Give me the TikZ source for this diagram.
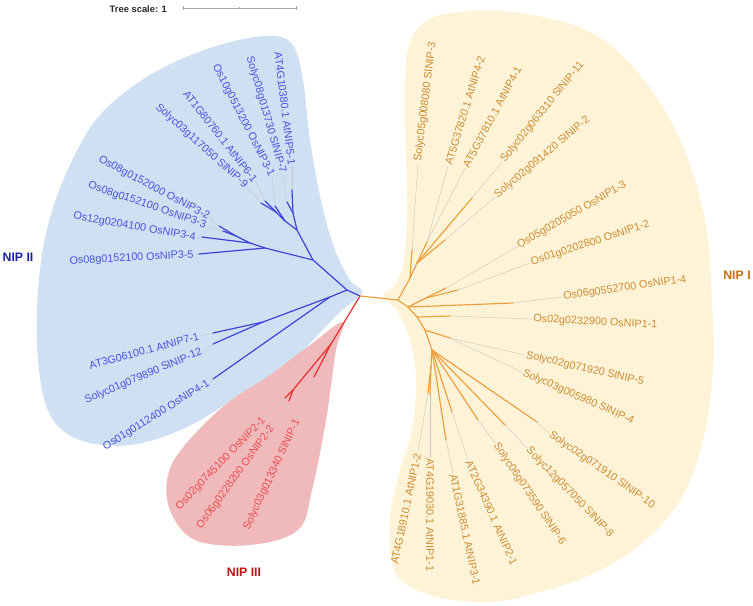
\documentclass[tikz,border=0pt]{standalone}
\usepackage{fontspec}
\setmainfont{Liberation Sans}
\usepackage{xcolor}
\usetikzlibrary{arrows.meta}

\definecolor{bgblue}{RGB}{207,224,242}
\definecolor{bgred}{RGB}{240,185,187}
\definecolor{bgorange}{RGB}{254,243,214}
\definecolor{lnblue}{RGB}{55,65,220}
\definecolor{lnred}{RGB}{232,45,45}
\definecolor{lnorange}{RGB}{236,160,62}
\definecolor{txblue}{RGB}{72,82,226}
\definecolor{txred}{RGB}{236,78,78}
\definecolor{txorange}{RGB}{206,140,52}
\definecolor{cladeblue}{RGB}{30,30,170}
\definecolor{cladered}{RGB}{190,20,20}
\definecolor{cladeorange}{RGB}{200,110,20}

\tikzset{
  leaf/.style={inner sep=1pt, font=\fontsize{9.2}{10}\selectfont},
  leafL/.style={leaf, anchor=east},
  leafR/.style={leaf, anchor=west},
  leader/.style={draw=gray!45, line width=0.35pt},
  bbr/.style={draw=lnblue, line width=1pt, line join=round, line cap=round},
  rbr/.style={draw=lnred, line width=1pt, line join=round, line cap=round},
  obr/.style={draw=lnorange, line width=1pt, line join=round, line cap=round},
  clade/.style={font=\fontsize{10.5}{12}\selectfont\bfseries},
}

\begin{document}
\begin{tikzpicture}[x=0.03cm, y=-0.03cm, >=stealth]
  \useasboundingbox (0,0) rectangle (753,605);

  % ===== clade shading =====
  \fill[bgblue] plot[smooth cycle, tension=0.6] coordinates {
    (362,293) (340,312) (290,362) (240,395) (185,428) (130,445) (80,440)
    (50,415) (38,360) (38,290) (48,225) (70,165) (100,115) (150,75)
    (210,48) (265,36) (292,44) (303,80) (310,140) (322,205) (335,250) (350,280)};
  \fill[bgred] plot[smooth cycle, tension=0.6] coordinates {
    (343,322) (336,350) (326,420) (312,490) (298,530) (250,545) (195,540)
    (170,510) (168,475) (185,445) (225,405) (270,375) (310,345)};
  \fill[bgorange] plot[smooth cycle, tension=0.6] coordinates {
    (383,296) (398,312) (410,340) (416,380) (412,430) (400,470) (390,520)
    (395,572) (430,595) (490,602) (540,592) (590,575) (640,545) (680,500)
    (703,440) (713,370) (712,300) (705,220) (680,140) (640,75) (590,32)
    (520,13) (460,12) (425,22) (408,50) (405,110) (407,200) (404,260) (395,285)};

  % ===== scale bar =====
  \node[font=\fontsize{8}{9}\selectfont\bfseries, text=gray!30!black, anchor=east] (scl) at (171,9) {Tree scale: 1};
  \coordinate (sb0) at (183,8);
  \coordinate (sb1) at (296,8);
  \coordinate (sbm) at (239.5,8);
  \draw[gray!70, line width=0.6pt] (sb0) -- (sb1);
  \draw[gray!70, line width=0.6pt] ([yshift=-2pt]sb0) -- ([yshift=2pt]sb0);
  \draw[gray!70, line width=0.6pt] ([yshift=-2pt]sb1) -- ([yshift=2pt]sb1);
  \draw[gray!70, line width=0.6pt] ([yshift=-1pt]sbm) -- ([yshift=1pt]sbm);

  % ===== centre =====
  \coordinate (r0) at (360,296);

  % ===== NIP II (blue) =====
  \coordinate (b0) at (347,290);
  \coordinate (b1) at (313,260);
  \coordinate (b2) at (297,230);
  \coordinate (b3) at (293,213);
  \coordinate (b4) at (285,221);
  \coordinate (b5) at (276,212);
  \coordinate (b6) at (265,248);
  \coordinate (b7) at (250,243);
  \coordinate (b8) at (236,236);
  \coordinate (b10) at (330,297);
  \coordinate (b9) at (263,322);
  \coordinate (tA5) at (292,190);
  \coordinate (tS7) at (287,202);
  \coordinate (tO31) at (275,206);
  \coordinate (tA6) at (265,201);
  \coordinate (tS9) at (261,203);
  \coordinate (tO32) at (219,226);
  \coordinate (tO33) at (223,231);
  \coordinate (tO34) at (202,237);
  \coordinate (tO35) at (199,254);
  \coordinate (tA7) at (213,333);
  \coordinate (tS12) at (213,344);
  \coordinate (tO41) at (213,379);

  \node[leafL, rotate=-83, text=txblue] (lA5) at (292,166) {AT4G10380.1 AtNIP5-1};
  \node[leafL, rotate=-74, text=txblue] (lS7) at (283,174) {Solyc08g013730 SlNIP-7};
  \node[leafL, rotate=-63, text=txblue] (lO31) at (272,177) {Os10g0513200 OsNIP3-1};
  \node[leafL, rotate=-52, text=txblue] (lA6) at (256,182) {AT1G80760.1 AtNIP6-1};
  \node[leafL, rotate=-42, text=txblue] (lS9) at (247,187) {Solyc03g117050 SlNIP-9};
  \node[leafL, rotate=-28, text=txblue] (lO32) at (210,218) {Os08g0152000 OsNIP3-2};
  \node[leafL, rotate=-19, text=txblue] (lO33) at (207,226) {Os08g0152100 OsNIP3-3};
  \node[leafL, rotate=-10, text=txblue] (lO34) at (197,238) {Os12g0204100 OsNIP3-4};
  \node[leafL, rotate=3, text=txblue] (lO35) at (195,255) {Os08g0152100 OsNIP3-5};
  \node[leafL, rotate=15, text=txblue] (lA7) at (200,336) {AT3G06100.1 AtNIP7-1};
  \node[leafL, rotate=23, text=txblue] (lS12) at (203,351) {Solyc01g079890 SlNIP-12};
  \node[leafL, rotate=32, text=txblue] (lO41) at (210,382) {Os01g0112400 OsNIP4-1};

  \draw[leader] (tA5) -- (lA5.east);
  \draw[leader] (tS7) -- (lS7.east);
  \draw[leader] (tO31) -- (lO31.east);
  \draw[leader] (tA6) -- (lA6.east);
  \draw[leader] (tS9) -- (lS9.east);
  \draw[leader] (tO32) -- (lO32.east);
  \draw[leader] (tO33) -- (lO33.east);
  \draw[leader] (tO34) -- (lO34.east);
  \draw[leader] (tO35) -- (lO35.east);
  \draw[leader] (tA7) -- (lA7.east);
  \draw[leader] (tS12) -- (lS12.east);
  \draw[leader] (tO41) -- (lO41.east);

  \draw[bbr] (r0) -- (b0) -- (b1) -- (b2) -- (b3) -- (tA5);
  \draw[bbr] (b3) -- (tS7);
  \draw[bbr] (b2) -- (b4) -- (tO31);
  \draw[bbr] (b4) -- (b5) -- (tA6);
  \draw[bbr] (b5) -- (tS9);
  \draw[bbr] (b1) -- (b6) -- (tO35);
  \draw[bbr] (b6) -- (b7) -- (tO34);
  \draw[bbr] (b7) -- (b8) -- (tO32);
  \draw[bbr] (b8) -- (tO33);
  \draw[bbr] (b0) -- (b10) -- (b9) -- (tA7);
  \draw[bbr] (b9) -- (tS12);
  \draw[bbr] (b10) -- (tO41);

  % ===== NIP III (red) =====
  \coordinate (d0) at (331,344);
  \coordinate (d1) at (293,390);
  \coordinate (tO21) at (285,398);
  \coordinate (tO22) at (289,401);
  \coordinate (tSl1) at (314,377);

  \node[leafL, rotate=46, text=txred] (lO21) at (265,418) {Os02g0745100 OsNIP2-1};
  \node[leafL, rotate=54, text=txred] (lO22) at (273,426) {Os06g0228200 OsNIP2-2};
  \node[leafL, rotate=65, text=txred] (lSl1) at (298,419) {Solyc03g013340 SlNIP-1};

  \draw[leader] (tO21) -- (lO21.east);
  \draw[leader] (tO22) -- (lO22.east);
  \draw[leader] (tSl1) -- (lSl1.east);

  \draw[rbr] (r0) -- (d0) -- (d1) -- (tO21);
  \draw[rbr] (d1) -- (tO22);
  \draw[rbr] (d0) -- (tSl1);

  % ===== NIP I (orange) =====
  \coordinate (o0) at (398,300);
  \coordinate (o1) at (410,278);
  \coordinate (o2) at (417,263);
  \coordinate (o3) at (427,242);
  \coordinate (o4) at (408,307);
  \coordinate (o5) at (426,298);
  \coordinate (o6) at (417,317);
  \coordinate (o7) at (425,330);
  \coordinate (o8) at (450,338);
  \coordinate (o9) at (432,350);
  \coordinate (o10) at (431,366);
  \coordinate (tSl3) at (412,250);
  \coordinate (tSl11) at (472,198);
  \coordinate (tSl2) at (445,240);
  \coordinate (tO13) at (446,288);
  \coordinate (tO12) at (458,290);
  \coordinate (tO14) at (513,303);
  \coordinate (tO11) at (450,316);
  \coordinate (tSl10) at (537,422);
  \coordinate (tSl8) at (505,425);
  \coordinate (tSl6) at (478,420);
  \coordinate (tA21) at (452,412);
  \coordinate (tA31) at (446,440);
  \coordinate (tA11) at (430,395);
  \coordinate (tA12) at (428,393);

  \node[leafR, rotate=83, text=txorange] (lSl3) at (418,163) {Solyc05g008080 SlNIP-3};
  \node[leafR, rotate=73, text=txorange] (lA42) at (448,166) {AT5G37820.1 AtNIP4-2};
  \node[leafR, rotate=62, text=txorange] (lA41) at (465,168) {AT5G37810.1 AtNIP4-1};
  \node[leafR, rotate=51, text=txorange] (lSl11) at (502,162) {Solyc02g063310 SlNIP-11};
  \node[leafR, rotate=40, text=txorange] (lSl2) at (495,197) {Solyc02g091420 SlNIP-2};
  \node[leafR, rotate=30, text=txorange] (lO13) at (517,247) {Os05g0205050 OsNIP1-3};
  \node[leafR, rotate=18, text=txorange] (lO12) at (530,263) {Os01g0202800 OsNIP1-2};
  \node[leafR, rotate=8, text=txorange] (lO14) at (562,297) {Os06g0552700 OsNIP1-4};
  \node[leafR, rotate=-3, text=txorange] (lO11) at (532,319) {Os02g0232900 OsNIP1-1};
  \node[leafR, rotate=-13, text=txorange] (lSl5) at (525,355) {Solyc02g071920 SlNIP-5};
  \node[leafR, rotate=-24, text=txorange] (lSl4) at (522,372) {Solyc03g005980 SlNIP-4};
  \node[leafR, rotate=-35, text=txorange] (lSl10) at (549,433) {Solyc02g071910 SlNIP-10};
  \node[leafR, rotate=-46, text=txorange] (lSl8) at (527,448) {Solyc12g057050 SlNIP-8};
  \node[leafR, rotate=-56, text=txorange] (lSl6) at (495,443) {Solyc06g073590 SlNIP-6};
  \node[leafR, rotate=-66, text=txorange] (lA21) at (468,460) {AT2G34390.1 AtNIP2-1};
  \node[leafR, rotate=-78, text=txorange] (lA31) at (453,473) {AT1G31885.1 AtNIP3-1};
  \node[leafR, rotate=-90, text=txorange] (lA11) at (430,457) {AT4G19030.1 AtNIP1-1};
  \node[leafL, rotate=78, text=txorange] (lA12) at (418,452) {AT4G18910.1 AtNIP1-2};

  \draw[leader] (tSl3) -- (lSl3.west);
  \draw[leader] (o3) -- (lA42.west);
  \draw[leader] (o3) -- (lA41.west);
  \draw[leader] (tSl11) -- (lSl11.west);
  \draw[leader] (tSl2) -- (lSl2.west);
  \draw[leader] (tO13) -- (lO13.west);
  \draw[leader] (tO12) -- (lO12.west);
  \draw[leader] (tO14) -- (lO14.west);
  \draw[leader] (tO11) -- (lO11.west);
  \draw[leader] (o8) -- (lSl5.west);
  \draw[leader] (o8) -- (lSl4.west);
  \draw[leader] (tSl10) -- (lSl10.west);
  \draw[leader] (tSl8) -- (lSl8.west);
  \draw[leader] (tSl6) -- (lSl6.west);
  \draw[leader] (tA21) -- (lA21.west);
  \draw[leader] (tA31) -- (lA31.west);
  \draw[leader] (tA11) -- (lA11.west);
  \draw[leader] (tA12) -- (lA12.east);

  \draw[obr] (r0) -- (o0) -- (o1) -- (tSl3);
  \draw[obr] (o1) -- (o2) -- (o3);
  \draw[obr] (o2) -- (tSl11);
  \draw[obr] (o2) -- (tSl2);
  \draw[obr] (o0) -- (o4) -- (o5) -- (tO13);
  \draw[obr] (o5) -- (tO12);
  \draw[obr] (o4) -- (tO14);
  \draw[obr] (o4) -- (o6) -- (tO11);
  \draw[obr] (o6) -- (o7) -- (o8);
  \draw[obr] (o7) -- (o9) -- (tSl10);
  \draw[obr] (o9) -- (tSl8);
  \draw[obr] (o9) -- (tSl6);
  \draw[obr] (o9) -- (tA21);
  \draw[obr] (o9) -- (tA31);
  \draw[obr] (o9) -- (o10) -- (tA11);
  \draw[obr] (o10) -- (tA12);

  % ===== clade names =====
  \node[clade, text=cladeblue] (nip2) at (18,257) {NIP II};
  \node[clade, text=cladeorange] (nip1) at (737,275) {NIP I};
  \node[clade, text=cladered] (nip3) at (244,572) {NIP III};
\end{tikzpicture}
\end{document}
